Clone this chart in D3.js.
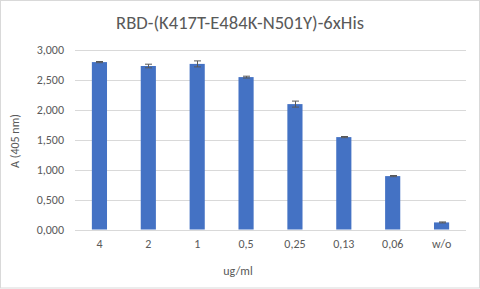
<!DOCTYPE html>
<html lang="en">
<head>
    <meta charset="UTF-8">
    <title>RBD ELISA</title>
    <style>
        body { margin: 0; background: #fff; }
        text { font-family: Carlito, Lato, "Liberation Sans", sans-serif; fill: #595959; }
        .grid line { stroke: #d9d9d9; }
        .bar { fill: #4472c4; }
        .err { stroke: #595959; stroke-width: 1; }
    </style>
</head>
<body>
    <div id="chart"></div>
    <script src="https://cdn.jsdelivr.net/npm/d3@7/dist/d3.min.js"></script>
    <script>
        var concentrations = ["4", "2", "1", "0,5", "0,25", "0,13", "0,06", "w/o"];
        var absorbance = [2.79, 2.725, 2.76, 2.54, 2.09, 1.54, 0.89, 0.118];
        var errors = [0.01, 0.03, 0.05, 0.015, 0.05, 0.01, 0.01, 0.008];
        var yTicks = [0, 0.5, 1, 1.5, 2, 2.5, 3];

        var width = 480, height = 289;
        var plotLeft = 75, plotRight = 466, plotTop = 49.5, plotBottom = 229.5;

        var svg = d3.select("#chart").append("svg")
            .attr("width", width)
            .attr("height", height);

        svg.append("rect")
            .attr("x", 0.5).attr("y", 0.5)
            .attr("width", width - 1).attr("height", height - 1.5)
            .attr("fill", "#fff").attr("stroke", "#d9d9d9");

        var x = d3.scaleBand()
            .domain(concentrations)
            .range([plotLeft, plotRight])
            .paddingInner(0.69)
            .paddingOuter(0.345);

        var y = d3.scaleLinear().domain([0, 3]).range([plotBottom, plotTop]);

        // excel style: 3,000 (comma decimal)
        var fmt = function(d) { return d.toFixed(3).replace(".", ","); };

        var grid = svg.append("g").attr("class", "grid");
        grid.selectAll("line")
            .data(yTicks)
            .enter().append("line")
            .attr("x1", plotLeft).attr("x2", plotRight)
            .attr("y1", d => Math.round(y(d)) + 0.5)
            .attr("y2", d => Math.round(y(d)) + 0.5);

        svg.append("g").selectAll("text")
            .data(yTicks)
            .enter().append("text")
            .attr("x", 64)
            .attr("y", d => y(d) + 4)
            .attr("text-anchor", "end")
            .attr("font-size", 12)
            .text(fmt);

        svg.append("g").selectAll("rect")
            .data(absorbance)
            .enter().append("rect")
            .attr("class", "bar")
            .attr("x", (d, i) => x(concentrations[i]))
            .attr("width", x.bandwidth())
            .attr("y", d => y(d))
            .attr("height", d => y(0) - y(d));

        var eb = svg.append("g");
        absorbance.forEach(function(d, i) {
            var cx = Math.round(x(concentrations[i]) + x.bandwidth() / 2) + 0.5;
            var y1 = y(d + errors[i]), y2 = y(d - errors[i]);
            eb.append("line").attr("class", "err")
                .attr("x1", cx).attr("x2", cx).attr("y1", y1).attr("y2", y2);
            eb.append("line").attr("class", "err")
                .attr("x1", cx - 3.5).attr("x2", cx + 3.5).attr("y1", y1).attr("y2", y1);
            eb.append("line").attr("class", "err")
                .attr("x1", cx - 3.5).attr("x2", cx + 3.5).attr("y1", y2).attr("y2", y2);
        });

        svg.append("g").selectAll("text")
            .data(concentrations)
            .enter().append("text")
            .attr("x", d => x(d) + x.bandwidth() / 2)
            .attr("y", 248)
            .attr("text-anchor", "middle")
            .attr("font-size", 12)
            .text(d => d);

        svg.append("text")
            .attr("x", 238).attr("y", 275)
            .attr("text-anchor", "middle")
            .attr("font-size", 12)
            .text("ug/ml");

        svg.append("text")
            .attr("transform", "translate(19,141) rotate(-90)")
            .attr("text-anchor", "middle")
            .attr("font-size", 12)
            .text("A (405 nm)");

        svg.append("text")
            .attr("x", 240).attr("y", 29)
            .attr("text-anchor", "middle")
            .attr("font-size", 18.6)
            .text("RBD-(K417T-E484K-N501Y)-6xHis");
    </script>
</body>
</html>
